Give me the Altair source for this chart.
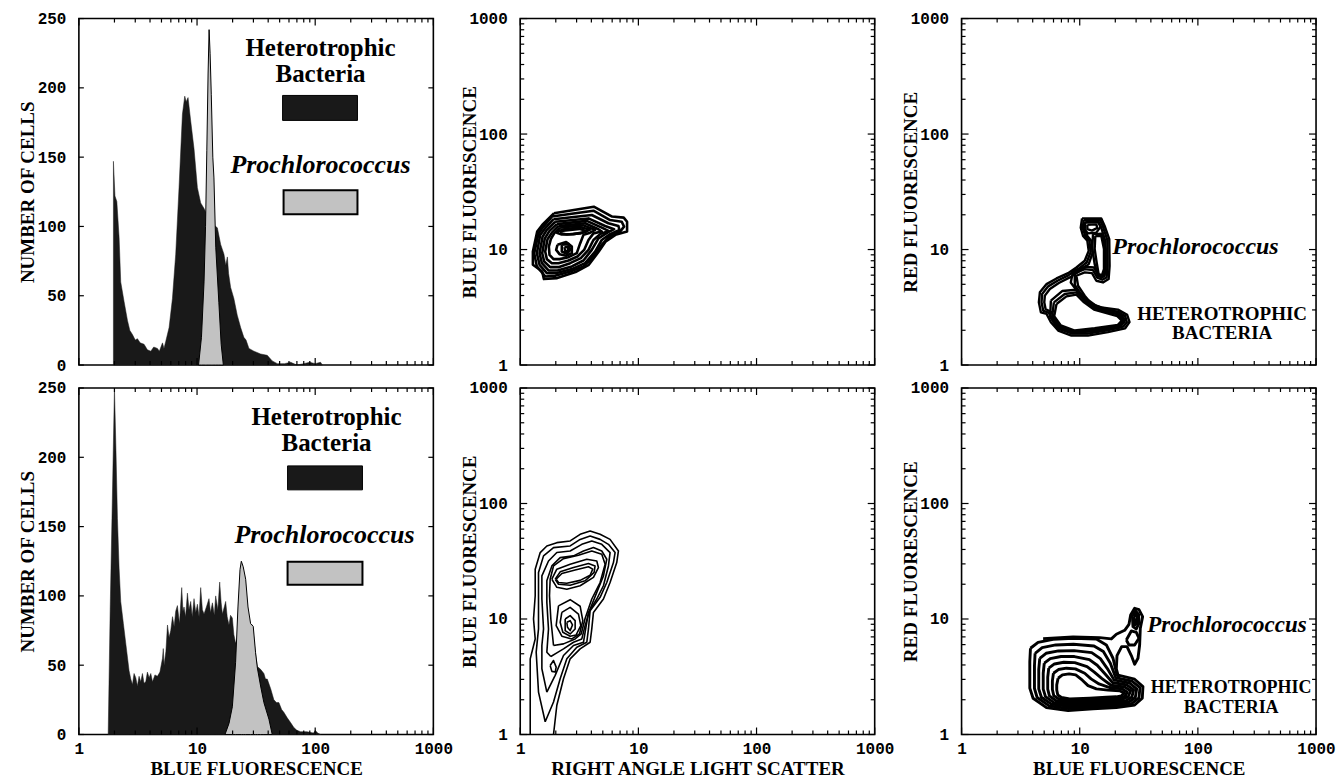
import altair as alt
import pandas as pd

# ---------------- histogram data (blue fluorescence vs number of cells) ----------------
TOP_HET_X = [1.96, 2.02, 2.095, 2.19, 2.26, 2.41, 2.58, 2.70, 2.84, 3.0, 3.13, 3.3, 3.56, 3.8, 4.06, 4.3,
             4.62, 4.8, 5.10, 5.25, 5.43, 5.80, 6.19, 6.60, 7.04, 7.52, 7.87, 8.1, 8.39, 8.84, 9.43, 10.07,
             10.74, 11.46, 12.24, 13.05, 13.91, 14.86, 15.85, 16.9, 17.5, 18.06, 18.5, 19.25, 20.5, 21.9,
             23.4, 24.9, 26.0, 27.5, 30.3, 34.5, 39.3, 43.3, 47.8, 55, 62, 70, 80, 90, 100, 111, 115]
TOP_HET_Y = [147, 122, 118, 92, 60, 46, 32, 25, 22, 18, 19, 16, 15, 11, 10, 13, 12, 10, 16, 12, 17, 27, 48,
             80, 128, 181, 194, 190, 193, 176, 156, 128, 117, 113, 108, 104, 101, 99, 87, 80, 72, 78, 66,
             56, 48, 36, 27, 20, 18, 12, 10, 8, 7, 3, 1, 1, 2, 0, 1, 2, 1, 2, 0]
TOP_PRO_X = [10.3, 10.9, 11.46, 11.8, 12.1, 12.4, 12.65, 12.9, 13.2, 13.6, 13.9, 14.4, 15.3, 16.0, 16.7]
TOP_PRO_Y = [0, 20, 60, 100, 155, 210, 242, 225, 195, 150, 135, 85, 45, 15, 0]

BOT_HET_X = [1.77, 1.84, 1.92, 2.0, 2.06, 2.12, 2.19, 2.26, 2.38, 2.50, 2.66, 2.75, 2.84, 2.93, 3.03, 3.13,
             3.23, 3.34, 3.45, 3.56, 3.68, 3.80, 3.93, 4.06, 4.20, 4.4, 4.62, 4.85, 5.10, 5.18, 5.26, 5.45,
             5.62, 5.8, 5.99, 6.2, 6.40, 6.60, 6.82, 7.1, 7.42, 7.6, 7.76, 8.0, 8.29, 8.55, 8.84, 9.1, 9.43,
             9.75, 10.07, 10.4, 10.74, 11.1, 11.46, 12.0, 12.62, 13.0, 13.49, 14.0, 14.38, 15.0, 15.55, 16.0,
             16.39, 17.0, 17.47, 18.0, 18.64, 19.2, 19.9, 20.5, 21.2, 22.5, 23.4, 25.8, 27.5, 29.4, 31.0,
             32.4, 34.5, 36.8, 38.0, 39.3, 42.0, 44.7, 47.0, 49.3, 52.0, 54.3, 58.0, 61.9, 66.0, 70.0, 75.2,
             85.0, 96.8, 100.0, 105.0, 111.0]
BOT_HET_Y = [0, 90, 170, 250, 205, 156, 120, 96, 80, 65, 46, 40, 36, 44, 41, 35, 42, 38, 44, 37, 38, 45, 41,
             44, 38, 43, 42, 45, 55, 62, 50, 60, 79, 70, 75, 85, 78, 89, 93, 80, 106, 89, 92, 85, 102, 90, 96,
             85, 98, 88, 94, 85, 106, 90, 87, 92, 98, 88, 95, 86, 100, 90, 110, 95, 87, 92, 96, 85, 79, 86, 84,
             72, 66, 70, 72, 75, 78, 79, 60, 49, 47, 44, 40, 40, 33, 25, 23, 23, 18, 16, 12, 8.6, 5, 3, 2, 2,
             1, 3, 1, 0]
BOT_PRO_X = [17.24, 18.64, 19.9, 20.5, 21.2, 22.2, 23.1, 23.7, 24.6, 25.8, 27.0, 28.4, 29.9, 31.3, 32.4,
             34.5, 36.8, 40.6, 43.3]
BOT_PRO_Y = [0, 8, 20, 35, 52, 92, 119, 125, 121, 112, 92, 80, 78, 59, 48, 35, 23, 11, 0]

# ---------------- contour rings, (x, y) points ----------------
MT_RINGS = {
    "T1": [(1.925, 20.6), (4.193, 23.5), (5.991, 19.3), (7.516, 18.9), (8.022, 17.4), (8.022, 14.3),
           (6.392, 13.4), (5.262, 11.7), (4.622, 9.61), (3.805, 7.38), (2.935, 6.38), (2.054, 5.66),
           (1.585, 5.55), (1.535, 6.46), (1.28, 7.38), (1.28, 9.61), (1.392, 14.3), (1.535, 16.3)],
    "T2": [(1.852, 19.3), (4.166, 21.7), (5.762, 18.0), (7.231, 17.4), (7.566, 15.8), (6.999, 14.3),
           (5.762, 13.1), (4.898, 11.0), (4.166, 8.70), (3.429, 7.14), (2.646, 6.46), (1.976, 5.93),
           (1.627, 5.85), (1.383, 7.14), (1.313, 9.30), (1.428, 13.8), (1.575, 15.8)],
    "T3": [(1.913, 18.3), (4.033, 19.9), (5.578, 16.9), (6.776, 16.0), (6.909, 14.8), (5.762, 13.6),
           (4.898, 12.1), (4.303, 9.61), (3.542, 7.62), (2.733, 6.77), (2.041, 6.25), (1.68, 6.25),
           (1.457, 7.38), (1.383, 9.30), (1.476, 13.4), (1.627, 15.3)],
    "T4": [(1.976, 17.4), (3.781, 18.6), (5.228, 16.0), (6.229, 15.0), (5.47, 14.0), (4.592, 12.5),
           (4.033, 9.93), (3.429, 8.04), (2.733, 7.14), (2.068, 6.59), (1.735, 6.59), (1.525, 7.62),
           (1.457, 9.30), (1.545, 12.9), (1.68, 14.8)],
    "T5": [(2.041, 16.6), (3.66, 17.7), (4.898, 15.5), (5.578, 14.5), (4.743, 13.6), (4.166, 12.1),
           (3.781, 9.93), (3.256, 8.42), (2.646, 7.62), (2.108, 7.04), (1.792, 7.04), (1.595, 7.88),
           (1.535, 9.30), (1.616, 12.5), (1.769, 14.5)],
    "T6": [(2.108, 16.0), (3.542, 16.9), (4.592, 15.0), (4.898, 14.3), (4.166, 13.8), (3.781, 12.1),
           (3.474, 9.93), (3.051, 8.70), (2.561, 8.04), (2.108, 7.62), (1.852, 7.62), (1.68, 8.26),
           (1.627, 9.61), (1.702, 12.3), (1.852, 14.0)],
    "T7": [(2.178, 15.5), (3.429, 16.2), (4.303, 14.8), (3.904, 14.0), (3.429, 13.4), (3.214, 11.3),
           (3.012, 9.30), (2.561, 8.59), (2.15, 8.26), (1.913, 8.26), (1.769, 9.00), (1.747, 10.6),
           (1.816, 12.3), (1.938, 13.8)],
    "T8": [(2.178, 14.8), (3.214, 15.6), (3.904, 14.9), (3.542, 14.2), (2.823, 13.6), (2.249, 13.5),
           (2.041, 14.0)],
    "T9": [(2.207, 14.5), (3.173, 15.1), (3.66, 14.4), (3.214, 13.8), (2.48, 13.5), (2.207, 13.8)],
    "T10": [(2.068, 11.0), (2.447, 11.6), (2.733, 10.6), (2.733, 9.30), (2.447, 8.82), (2.15, 9.12),
            (2.015, 9.93)],
    "T11": [(2.249, 11.0), (2.561, 11.2), (2.646, 9.93), (2.48, 9.18), (2.249, 9.61)],
    "T12": [(2.37, 10.5), (2.528, 10.6), (2.561, 9.80), (2.415, 9.55)],
}

MB_RINGS = {
    "M1": [(1.215, 1.0), (1.215, 4.52), (1.339, 6.72), (1.296, 10.0), (1.339, 15.9), (1.339, 27.0),
           (1.476, 37.6), (1.68, 42.9), (2.041, 45.8), (2.646, 47.4), (3.214, 54.1), (3.904, 57.7),
           (4.743, 54.1), (5.76, 48.9), (6.78, 38.8), (6.56, 30.8), (5.76, 20.7), (5.06, 14.9),
           (4.166, 11.4), (4.033, 8.2), (3.904, 6.29), (3.214, 5.51), (2.646, 4.52), (2.324, 3.04),
           (2.041, 1.79), (1.913, 1.0)],
    "M2": [(1.627, 1.29), (1.428, 2.33), (1.365, 5.16), (1.428, 8.2), (1.428, 15.9), (1.428, 25.3),
           (1.575, 35.2), (1.913, 41.5), (2.646, 42.9), (3.214, 48.9), (3.904, 52.3), (4.743, 48.9),
           (5.58, 44.3), (6.35, 37.6), (6.15, 30.8), (5.40, 20.7), (4.743, 15.4), (3.904, 11.8),
           (3.78, 8.2), (3.66, 6.29), (3.012, 5.70), (2.48, 4.52), (2.178, 3.04), (1.913, 1.91)],
    "M3": [(1.68, 2.33), (1.525, 3.71), (1.525, 5.89), (1.575, 8.2), (1.525, 14.9), (1.525, 23.6),
           (1.735, 31.8), (2.041, 37.6), (2.646, 38.8), (3.32, 44.3), (4.033, 47.4), (4.90, 44.3),
           (5.76, 37.6), (5.58, 28.8), (5.06, 19.4), (4.445, 14.9), (3.78, 11.4), (3.54, 7.67),
           (3.43, 6.29), (2.823, 5.89), (2.324, 4.83), (1.976, 3.25)],
    "M4": [(1.816, 4.74), (1.68, 5.16), (1.735, 8.2), (1.68, 13.9), (1.68, 21.4), (1.852, 28.8),
           (2.178, 34.0), (2.823, 35.2), (3.43, 38.8), (4.166, 41.5), (4.90, 38.8), (5.40, 32.9),
           (5.06, 23.6), (4.445, 17.0), (3.904, 12.2), (3.54, 8.76), (3.32, 6.72), (2.823, 6.29),
           (2.324, 5.51), (2.041, 5.09)],
    "M5": [(1.913, 5.89), (1.816, 10.0), (1.769, 15.9), (1.792, 22.1), (1.913, 28.8), (2.324, 33.3),
           (3.111, 35.6), (4.033, 38.8), (4.90, 36.3), (5.23, 29.8), (4.743, 20.7), (4.033, 14.9),
           (3.54, 10.1), (3.28, 7.42), (2.916, 6.72), (2.324, 6.09)],
    "U1": [(1.852, 22.1), (2.041, 27.0), (2.646, 29.8), (3.66, 32.9), (4.445, 31.8), (4.59, 27.9),
           (4.166, 22.9), (3.214, 19.4), (2.48, 18.1), (2.041, 18.8)],
    "U2": [(1.976, 22.1), (2.178, 25.6), (2.823, 27.9), (3.78, 30.2), (4.30, 28.8), (4.22, 25.3),
           (3.54, 21.4), (2.646, 19.6), (2.108, 20.0)],
    "U3": [(2.015, 22.1), (2.25, 24.8), (2.916, 26.6), (3.78, 28.3), (4.11, 27.0), (3.904, 23.9),
           (3.214, 21.6), (2.48, 20.4), (2.108, 20.7)],
    "C1": [(2.108, 13.0), (2.646, 14.7), (3.214, 12.9), (3.386, 9.67), (3.173, 7.42), (2.733, 6.72),
           (2.25, 7.09), (2.015, 8.76)],
    "C2": [(2.25, 11.4), (2.646, 12.6), (3.111, 11.0), (3.256, 8.76), (2.973, 7.28), (2.646, 7.09),
           (2.294, 7.67), (2.178, 9.36)],
    "C3": [(2.401, 10.0), (2.646, 10.7), (2.916, 9.67), (2.916, 8.2), (2.646, 7.42), (2.401, 7.93)],
    "C4": [(2.48, 9.36), (2.646, 9.67), (2.769, 8.88), (2.646, 7.93), (2.512, 8.48)],
    "S1": [(1.792, 3.96), (1.913, 4.37), (2.015, 3.83), (1.976, 3.47), (1.852, 3.52)],
}
MB_OPEN = ["M1"]

RT_RINGS = {
    "R1": [(10.46, 18.6), (15.23, 18.6), (16.25, 16.0), (17.78, 12.3), (17.90, 7.23), (17.56, 5.55),
           (15.73, 5.19), (13.82, 5.37), (12.70, 6.25), (11.02, 6.34), (9.37, 5.93), (9.68, 4.86),
           (11.02, 3.99), (12.54, 3.38), (15.23, 3.16), (21.04, 3.02), (25.21, 2.72), (26.38, 2.35),
           (24.25, 2.08), (17.33, 1.93), (11.75, 1.80), (8.51, 1.80), (6.57, 1.99), (5.70, 2.35),
           (5.24, 2.77), (4.69, 2.86), (4.51, 3.49), (4.60, 4.26), (5.24, 5.02), (6.36, 5.62),
           (7.97, 6.25), (9.37, 6.99), (11.02, 7.99), (11.91, 9.74), (11.60, 11.9), (10.67, 13.1),
           (10.2, 15.5)],
    "R2": [(10.81, 18.0), (14.84, 18.0), (15.73, 15.8), (17.11, 12.1), (17.22, 7.23), (16.89, 5.74),
           (15.52, 5.48), (14.09, 5.70), (12.95, 6.63), (11.02, 6.77), (9.08, 6.25), (9.08, 4.93),
           (10.46, 3.99), (12.14, 3.31), (15.23, 3.06), (20.77, 2.90), (24.25, 2.65), (25.05, 2.35),
           (23.33, 2.15), (17.11, 2.00), (11.75, 1.87), (8.62, 1.87), (6.78, 2.06), (5.96, 2.38),
           (5.48, 2.83), (4.91, 2.96), (4.75, 3.49), (4.81, 4.12), (5.41, 4.80), (6.48, 5.37),
           (8.08, 6.01), (9.68, 6.77), (11.45, 7.73), (12.38, 9.55), (12.06, 11.9), (11.16, 13.1),
           (10.60, 15.4)],
    "R3": [(11.16, 17.4), (14.46, 17.4), (15.23, 15.4), (16.46, 11.9), (16.56, 7.23), (16.25, 5.93),
           (15.23, 5.70), (14.27, 6.01), (13.21, 6.99), (11.02, 7.09), (8.79, 6.51), (8.40, 5.19),
           (9.68, 4.26), (11.60, 3.38), (15.03, 2.96), (20.37, 2.79), (23.19, 2.58), (23.94, 2.35),
           (22.44, 2.23), (16.78, 2.08), (11.75, 1.95), (8.79, 1.95), (7.01, 2.13), (6.24, 2.43),
           (5.77, 2.86), (5.14, 3.06), (5.01, 3.49), (5.07, 3.99), (5.59, 4.55), (6.65, 5.13),
           (8.24, 5.74), (10.0, 6.51), (11.91, 7.47), (12.87, 9.42), (12.54, 11.9), (11.60, 13.1),
           (11.02, 15.2)],
    "H3": [(5.70, 3.61), (7.10, 4.37), (9.37, 4.49), (11.45, 3.73), (13.91, 3.23), (21.32, 2.86),
           (24.25, 2.46), (21.88, 2.11), (13.73, 1.98), (8.84, 1.90), (6.57, 2.06), (5.62, 2.61)],
    "H2": [(6.04, 3.49), (7.47, 4.12), (9.37, 4.26), (11.16, 3.61), (13.55, 3.12), (21.04, 2.75),
           (23.64, 2.43), (21.46, 2.17), (13.55, 2.02), (8.96, 1.93), (6.70, 2.13), (5.85, 2.63)],
    "H1": [(6.36, 3.38), (7.72, 3.93), (9.37, 4.07), (10.88, 3.49), (13.21, 3.02), (20.77, 2.65),
           (22.74, 2.43), (21.04, 2.23), (13.38, 2.08), (9.08, 1.99), (6.92, 2.20), (6.08, 2.65)],
    "P2": [(12.95, 13.6), (15.52, 13.7), (16.56, 10.1), (16.56, 6.55), (15.73, 5.85), (14.27, 5.93),
           (13.38, 7.47), (12.79, 10.1)],
    "P1": [(13.55, 13.1), (15.23, 13.1), (16.04, 10.1), (16.04, 6.77), (15.43, 6.01), (14.46, 6.13),
           (13.91, 7.73), (13.38, 10.1)],
    "K1": [(11.02, 17.1), (14.27, 17.3), (15.03, 15.8), (13.82, 14.0), (11.75, 13.8), (10.88, 15.0)],
    "K2": [(11.60, 16.4), (13.82, 16.5), (14.09, 15.4), (12.70, 14.6), (11.60, 15.0)],
}

RB_RINGS = {
    "B0": [(3.83, 5.58), (4.44, 6.28), (5.95, 6.67), (8.79, 6.81), (13.83, 6.72), (16.80, 5.96),
           (19.13, 4.57), (20.68, 3.28), (29.16, 3.01), (34.28, 2.60), (33.84, 2.06), (29.16, 1.80),
           (20.41, 1.71), (12.96, 1.67), (7.97, 1.61), (5.23, 1.71), (4.03, 2.06), (3.78, 2.52),
           (3.78, 4.28)],
    "B1": [(4.19, 5.05), (4.81, 5.65), (6.27, 5.96), (8.84, 6.04), (13.21, 5.84), (15.85, 5.22),
           (18.16, 4.14), (20.15, 3.11), (27.87, 2.89), (32.35, 2.55), (31.72, 2.08), (27.51, 1.85),
           (19.76, 1.77), (12.79, 1.72), (8.02, 1.68), (5.51, 1.77), (4.36, 2.09), (4.14, 2.50),
           (4.14, 3.95)],
    "B2": [(4.59, 4.57), (5.19, 5.05), (6.60, 5.29), (8.96, 5.32), (12.63, 5.12), (14.95, 4.54),
           (17.13, 3.72), (19.51, 2.97), (26.46, 2.78), (30.32, 2.48), (29.54, 2.09), (25.95, 1.90),
           (19.13, 1.83), (12.71, 1.79), (8.07, 1.75), (5.76, 1.83), (4.74, 2.10), (4.50, 2.48),
           (4.50, 3.67)],
    "B3": [(5.01, 4.14), (5.63, 4.54), (6.95, 4.73), (9.02, 4.73), (12.07, 4.45), (14.06, 3.98),
           (16.27, 3.37), (18.94, 2.82), (25.20, 2.68), (28.60, 2.43), (27.60, 2.11), (24.40, 1.95),
           (18.52, 1.90), (12.55, 1.85), (8.10, 1.81), (6.05, 1.89), (5.13, 2.13), (4.91, 2.47),
           (4.91, 3.39)],
    "B4": [(5.47, 3.75), (6.11, 4.08), (7.33, 4.22), (9.07, 4.19), (11.53, 3.87), (13.21, 3.48),
           (15.44, 3.05), (18.40, 2.67), (24.01, 2.58), (26.98, 2.39), (25.78, 2.13), (22.94, 2.01),
           (17.93, 1.97), (12.39, 1.92), (8.13, 1.88), (6.35, 1.95), (5.54, 2.16), (5.36, 2.47),
           (5.36, 3.13)],
    "B5": [(5.99, 3.39), (6.60, 3.65), (7.72, 3.75), (9.19, 3.70), (11.02, 3.39), (12.47, 3.03),
           (14.57, 2.74), (17.93, 2.55), (22.94, 2.48), (25.28, 2.32), (24.16, 2.14), (21.64, 2.06),
           (17.36, 2.03), (12.31, 1.99), (8.18, 1.95), (6.69, 2.02), (6.03, 2.17), (5.87, 2.45),
           (5.87, 2.91)],
    "B6": [(6.56, 3.07), (7.14, 3.28), (8.13, 3.35), (9.25, 3.28), (10.53, 2.95), (11.76, 2.65),
           (13.83, 2.48), (17.36, 2.42), (21.78, 2.39), (23.85, 2.28), (22.50, 2.16), (20.41, 2.12),
           (16.80, 2.10), (12.15, 2.06), (8.23, 2.03), (7.00, 2.09), (6.52, 2.20), (6.39, 2.43),
           (6.39, 2.69)],
    "L1": [(4.90, 6.76), (8.79, 6.99), (14.76, 6.90), (18.52, 6.72), (20.41, 7.37), (24.01, 7.98),
           (26.12, 8.99), (26.98, 10.83), (29.16, 12.37), (31.72, 12.04), (34.07, 10.48), (32.56, 8.31),
           (32.14, 5.96), (31.12, 4.57), (29.16, 4.06), (27.33, 4.82), (25.12, 5.77), (22.64, 5.77),
           (20.68, 4.82), (20.41, 3.70), (21.36, 3.11)],
    "L2": [(27.87, 10.83), (29.73, 11.73), (31.52, 10.97), (31.72, 9.17), (30.12, 8.20), (28.23, 8.58)],
    "L3": [(28.79, 10.48), (29.93, 11.12), (30.72, 10.41), (30.52, 9.17), (29.35, 8.87)],
    "L4": [(24.80, 6.58), (27.33, 7.88), (30.12, 7.67), (31.72, 6.81), (29.16, 5.96), (26.12, 5.96)],
}
RB_OPEN = ["L1"]

MAJOR_TICKS = [1, 10, 100, 1000]
MINOR_TICKS = [2, 3, 4, 5, 6, 7, 8, 9, 20, 30, 40, 50, 60, 70, 80, 90,
               200, 300, 400, 500, 600, 700, 800, 900]
COUNT_TICKS = [0, 50, 100, 150, 200, 250]

# ---------------- style ----------------
W, H = 355, 347
BLACK_FILL = "#191919"
DOT_FILL = "#c2c2c2"
SERIF = "Liberation Serif"
MONO = "Liberation Mono"

XS = alt.Scale(type="log", domain=[1, 1000], nice=False)
YCOUNT = alt.Scale(domain=[0, 250], nice=False)
YLOG = alt.Scale(type="log", domain=[1, 1000], nice=False)


def x_axis(title):
    if title is None:
        return None
    return alt.Axis(title=title, values=MAJOR_TICKS, format="d", ticks=False, tickSize=0,
                    domain=False, grid=False, labelPadding=6, labelFlush=False,
                    labelOverlap=False, minExtent=22, maxExtent=22, titlePadding=3)


def y_axis(title, values):
    return alt.Axis(title=title, values=values, format="d", ticks=False, tickSize=0,
                    domain=False, grid=False, labelPadding=13, labelFlush=False,
                    labelOverlap=False, minExtent=32, maxExtent=32, titlePadding=9)


def tick_layers(xax, yscale, yax, y_sets):
    layers = []
    xenc = alt.X("x:Q", scale=XS, axis=xax)
    for vals, size in ((MAJOR_TICKS, 7), (MINOR_TICKS, 4)):
        base = alt.Chart(pd.DataFrame({"x": vals})).mark_rule(color="black", strokeWidth=1.2)
        layers.append(base.encode(x=xenc, y=alt.value(H), y2=alt.value(H - size)))
        layers.append(base.encode(x=xenc, y=alt.value(0), y2=alt.value(size)))
    yenc = alt.Y("y:Q", scale=yscale, axis=yax)
    for vals, size in y_sets:
        base = alt.Chart(pd.DataFrame({"y": vals})).mark_rule(color="black", strokeWidth=1.2)
        layers.append(base.encode(y=yenc, x=alt.value(0), x2=alt.value(size)))
        layers.append(base.encode(y=yenc, x=alt.value(W), x2=alt.value(W - size)))
    return layers


def label(text, x, y, size, italic=False, align="center"):
    return alt.Chart(pd.DataFrame({"t": [text]})).mark_text(
        font=SERIF, fontWeight="bold", fontStyle="italic" if italic else "normal",
        fontSize=size, align=align, baseline="alphabetic", color="black"
    ).encode(x=alt.value(x), y=alt.value(y), text="t:N")


def box(x1, x2, y1, y2, fill, sw):
    return alt.Chart(pd.DataFrame({"k": [0]})).mark_rect(
        fill=fill, stroke="black", strokeWidth=sw
    ).encode(x=alt.value(x1), x2=alt.value(x2), y=alt.value(y1), y2=alt.value(y2))


def hist_panel(hx, hy, px, py, xtitle, ann):
    het = pd.DataFrame({"x": hx, "y": hy})
    pro = pd.DataFrame({"x": px, "y": py})
    xax = x_axis(xtitle)
    yax = y_axis("NUMBER OF CELLS", COUNT_TICKS)
    xenc = alt.X("x:Q", scale=XS, axis=xax)
    yenc = alt.Y("y:Q", scale=YCOUNT, axis=yax)
    a = alt.Chart(het).mark_area(fill=BLACK_FILL, stroke=BLACK_FILL, strokeWidth=0.5).encode(x=xenc, y=yenc)
    b = alt.Chart(pro).mark_area(fill=DOT_FILL, stroke="black", strokeWidth=1).encode(x=xenc, y=yenc)
    layers = [a, b] + ann + tick_layers(xax, YCOUNT, yax, [(COUNT_TICKS, 5)])
    return alt.layer(*layers).properties(width=W, height=H)


def ring_frame(rings, open_names):
    rows = []
    for name, pts in rings.items():
        seq = list(pts) if name in open_names else list(pts) + [pts[0]]
        for i, (x, y) in enumerate(seq):
            rows.append({"ring": name, "i": i, "x": x, "y": y})
    return pd.DataFrame(rows)


def contour_panel(rings, open_names, xtitle, ytitle, ann, sw):
    df = ring_frame(rings, open_names)
    xax = x_axis(xtitle)
    yax = y_axis(ytitle, MAJOR_TICKS)
    lines = alt.Chart(df).mark_line(color="black", strokeWidth=sw, clip=True,
                                    strokeJoin="round").encode(
        x=alt.X("x:Q", scale=XS, axis=xax),
        y=alt.Y("y:Q", scale=YLOG, axis=yax),
        detail="ring:N", order="i:Q")
    layers = [lines] + ann + tick_layers(xax, YLOG, yax, [(MAJOR_TICKS, 7), (MINOR_TICKS, 4)])
    return alt.layer(*layers).properties(width=W, height=H)


p11 = hist_panel(TOP_HET_X, TOP_HET_Y, TOP_PRO_X, TOP_PRO_Y, None, [
    label("Heterotrophic", 242, 38, 25), label("Bacteria", 242, 64, 25),
    box(204, 279, 77, 102, BLACK_FILL, 1),
    label("Prochlorococcus", 242, 155, 26, italic=True),
    box(205, 279, 172, 196, DOT_FILL, 2)])
p21 = hist_panel(BOT_HET_X, BOT_HET_Y, BOT_PRO_X, BOT_PRO_Y, "BLUE FLUORESCENCE", [
    label("Heterotrophic", 248, 37, 25), label("Bacteria", 248, 63, 25),
    box(209, 284, 78, 102, BLACK_FILL, 1),
    label("Prochlorococcus", 246, 155, 26, italic=True),
    box(209, 284, 174, 197, DOT_FILL, 2)])

p12 = contour_panel(MT_RINGS, [], None, "BLUE FLUORESCENCE", [], 2.6)
p22 = contour_panel(MB_RINGS, MB_OPEN, "RIGHT ANGLE LIGHT SCATTER", "BLUE FLUORESCENCE", [], 1.6)

p13 = contour_panel(RT_RINGS, [], None, "RED FLUORESCENCE", [
    label("Prochlorococcus", 151, 236, 24, italic=True, align="left"),
    label("HETEROTROPHIC", 261, 302, 19), label("BACTERIA", 261, 321, 19)], 2.4)
p23 = contour_panel(RB_RINGS, RB_OPEN, "BLUE FLUORESCENCE", "RED FLUORESCENCE", [
    label("Prochlorococcus", 186, 244, 23, italic=True, align="left"),
    label("HETEROTROPHIC", 270, 305, 18), label("BACTERIA", 270, 325, 18)], 2.9)

chart = alt.concat(
    p11, p12, p13, p21, p22, p23,
    columns=3, spacing={"row": 23, "column": 87}, bounds="flush",
).properties(
    padding={"left": 18, "top": 9, "right": 5, "bottom": 2},
    background="white",
).configure_axis(
    labelFont=MONO, labelFontWeight="bold", labelFontSize=16, labelColor="black",
    titleFont=SERIF, titleFontWeight="bold", titleFontSize=19, titleColor="black",
).configure_view(stroke="black", strokeWidth=1.6)

chart.save("out.html", embed_options={"renderer": "svg", "actions": False})
